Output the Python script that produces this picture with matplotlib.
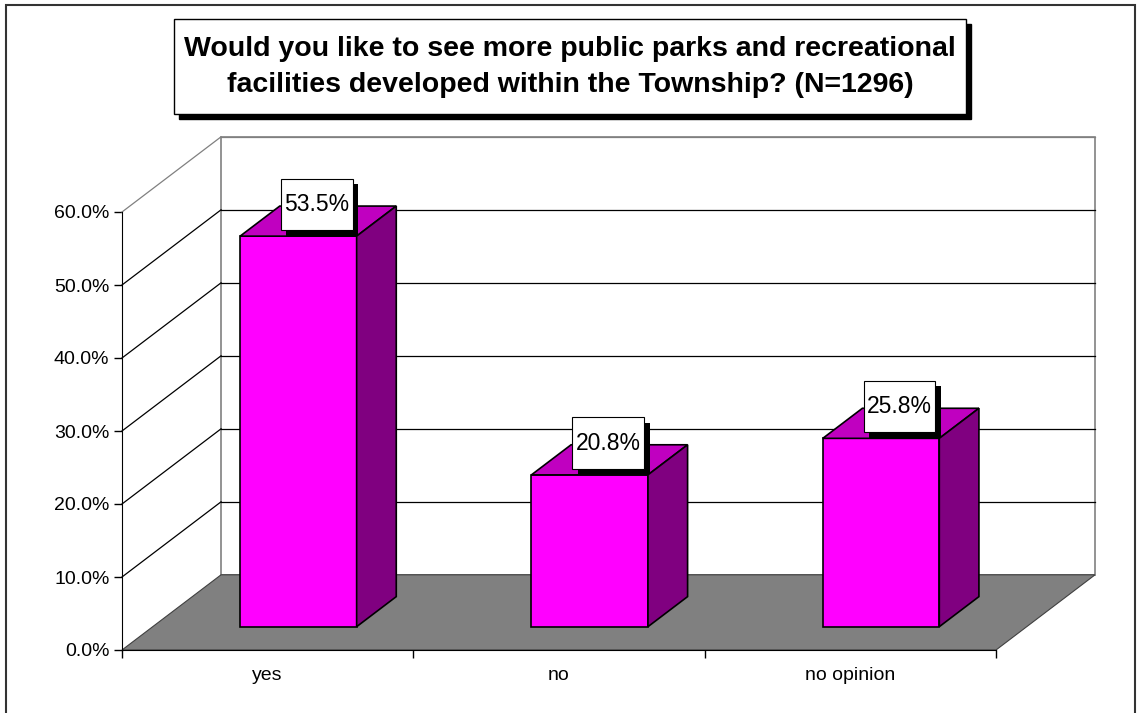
import matplotlib.pyplot as plt
import matplotlib.patheffects as pe
from matplotlib.patches import Polygon, Rectangle
from matplotlib.path import Path

plt.rcParams['font.family'] = ['Liberation Sans', 'DejaVu Sans']

categories = ["yes", "no", "no opinion"]
values = [53.5, 20.8, 25.8]
labels = ["53.5%", "20.8%", "25.8%"]
yticks = [0, 10, 20, 30, 40, 50, 60]
title = ("Would you like to see more public parks and recreational\n"
         "facilities developed within the Township? (N=1296)")

W, H = 1138, 713
fig = plt.figure(figsize=(W / 100, H / 100), dpi=100)

# outer frame and title box (figure pixels)
def px(x, y, w, h, **kw):
    return Rectangle((x / W, 1 - (y + h) / H), w / W, h / H,
                     transform=fig.transFigure, **kw)

fig.patches.append(px(6, 5, 1129, 720, fill=False, ec="#333333", lw=1.5))
fig.patches.append(px(179, 24, 792, 95, fc="black", ec="black"))
fig.patches.append(px(174, 19, 792, 95, fc="white", ec="black", lw=1))
fig.text(570 / W, 1 - 67 / H, title, ha="center", va="center",
         fontsize=20.5, fontweight="bold", linespacing=1.55)


def label_box(x0, y0, width, height, mutation_size):
    # taller padding than wide, like the excel data labels
    px_, py_ = 0.15 * mutation_size, 0.62 * mutation_size
    a, b = x0 - px_, y0 - py_
    c, d = x0 + width + px_, y0 + height + py_
    return Path([(a, b), (c, b), (c, d), (a, d), (a, b)], closed=True)


# front plane of the chart
ax = fig.add_axes([122 / W, 1 - 650 / H, 874 / W, 438 / H])
ax.set_xlim(-0.5, len(categories) - 0.5)
ax.set_ylim(0, 60)
ax.patch.set_visible(False)

dx, dy = 0.34, 10.3     # depth offset in data units
f0, f1 = 0.31, 0.71     # bar front/back depth
bw = 0.4
x0, x1 = -0.5, len(categories) - 0.5

# back wall
ax.add_patch(Polygon([(x0 + dx, dy), (x1 + dx, dy), (x1 + dx, 60 + dy), (x0 + dx, 60 + dy)],
                     closed=True, fc="white", ec="#808080", lw=1.2, clip_on=False, zorder=1))
for v in yticks[1:]:
    c = "#808080" if v == 60 else "black"
    ax.plot([x0 + dx, x1 + dx], [v + dy, v + dy], color=c, lw=0.9, clip_on=False, zorder=2)
    ax.plot([x0, x0 + dx], [v, v + dy], color=c, lw=0.9, clip_on=False, zorder=2)

# floor
ax.add_patch(Polygon([(x0, 0), (x1, 0), (x1 + dx, dy), (x0 + dx, dy)],
                     closed=True, fc="#808080", ec="#404040", lw=0.8, clip_on=False, zorder=3))

# bars
for i, v in enumerate(values):
    l, r = i - bw / 2, i + bw / 2
    front = [(l + f0 * dx, f0 * dy), (r + f0 * dx, f0 * dy), (r + f0 * dx, v + f0 * dy), (l + f0 * dx, v + f0 * dy)]
    top = [(l + f0 * dx, v + f0 * dy), (r + f0 * dx, v + f0 * dy), (r + f1 * dx, v + f1 * dy), (l + f1 * dx, v + f1 * dy)]
    side = [(r + f0 * dx, f0 * dy), (r + f1 * dx, f1 * dy), (r + f1 * dx, v + f1 * dy), (r + f0 * dx, v + f0 * dy)]
    for pts, col in [(front, "#FF00FF"), (top, "#C000C0"), (side, "#800080")]:
        ax.add_patch(Polygon(pts, closed=True, fc=col, ec="black", lw=1.2, clip_on=False, zorder=4))

    cx = i + 0.5 * (f0 + f1) * dx
    cy = v + 0.5 * (f0 + f1) * dy
    t = ax.annotate(labels[i], (cx, cy), xytext=(-1, 12), textcoords="offset points",
                    ha="center", va="center", fontsize=16.5, color="black", zorder=6,
                    bbox=dict(boxstyle=label_box, fc="white", ec="black", lw=0.8))
    t.get_bbox_patch().set_path_effects([
        pe.SimplePatchShadow(offset=(4, -4), shadow_rgbFace="black", alpha=1.0),
        pe.Normal()])

# axes
for s in ["top", "right"]:
    ax.spines[s].set_visible(False)
ax.spines["left"].set_zorder(7)
ax.spines["bottom"].set_zorder(7)
ax.set_yticks(yticks)
ax.set_yticklabels([f"{v:.1f}%" for v in yticks], fontsize=14)
ax.set_xticks(range(len(categories)))
ax.set_xticklabels(categories, fontsize=14)
ax.set_xticks([x0 + k for k in range(len(categories) + 1)], minor=True)
ax.tick_params(axis="x", which="major", length=0, pad=12)
ax.tick_params(axis="x", which="minor", length=6, direction="out", width=1)
ax.tick_params(axis="y", length=6, width=1, pad=3)

fig.savefig("out.png", dpi=100)
